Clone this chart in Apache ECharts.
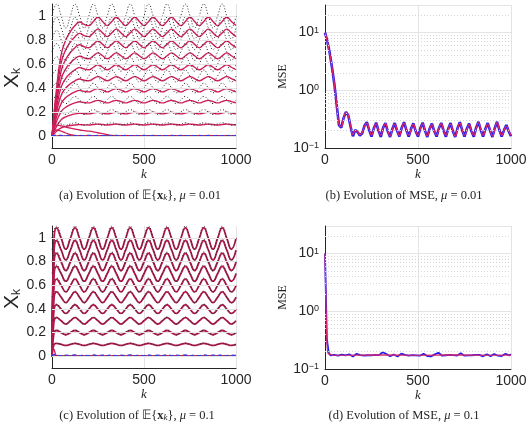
<!DOCTYPE html>
<html>
<head>
<meta charset="utf-8">
<script src="https://cdn.jsdelivr.net/npm/echarts@6/dist/echarts.min.js"></script>
<style>
html,body{margin:0;padding:0;background:#fff}
#main{width:531px;height:428px}
</style>
</head>
<body>
<div id="main"></div>
<script>
// levels of the tracked components
var levels = [0, 0.1, 0.2, 0.3, 0.4, 0.5, 0.6, 0.7, 0.8, 0.9, 1.0]
// k samples used for the tracking curves (a) and (c)
var kTrack = [0, 10, 25, 50, 75, 100, 125, 150, 175, 200, 225, 250, 275, 300, 325, 350, 375, 400, 425, 450, 475,
  500, 525, 550, 575, 600, 625, 650, 675, 700, 725, 750, 775, 800, 825, 850, 875, 900, 925, 950, 975, 1000]
// true signal, relative ripple around each level (dotted)
var rippleTrue = [0, 0.06,
  0.1, 0, -0.1, 0, 0.1, 0, -0.1, 0, 0.1, 0, -0.1, 0, 0.1, 0, -0.1, 0, 0.1, 0, -0.1, 0,
  0.1, 0, -0.1, 0, 0.1, 0, -0.1, 0, 0.1, 0, -0.1, 0, 0.1, 0, -0.1, 0, 0.1, 0, -0.1, 0]
// estimate relative to level, mu = 0.01
var trackA = [0, 0.17, 0.4, 0.68, 0.8, 0.87, 0.92, 0.95, 0.93,
  0.92, 0.955, 0.99, 0.955, 0.92, 0.955, 0.99, 0.955, 0.92, 0.955, 0.99, 0.955, 0.92, 0.955, 0.99, 0.955,
  0.92, 0.955, 0.99, 0.955, 0.92, 0.955, 0.99, 0.955, 0.92, 0.955, 0.99, 0.955, 0.92, 0.955, 0.99, 0.955,
  0.92]
// estimate relative to level, mu = 0.1
var trackC = [0, 0.95,
  1.085, 0.995, 0.905, 0.995, 1.085, 0.995, 0.905, 0.995, 1.085, 0.995, 0.905, 0.995, 1.085, 0.995, 0.905, 0.995,
  1.085, 0.995, 0.905, 0.995, 1.085, 0.995, 0.905, 0.995, 1.085, 0.995, 0.905, 0.995, 1.085, 0.995, 0.905, 0.995,
  1.085, 0.995, 0.905, 0.995, 1.085, 0.995, 0.905, 0.995]
// zero components that overshoot at the start
var zeroA1 = [0, 0.07, 0.09, 0.085, 0.075, 0.065, 0.058, 0.05, 0.045, 0.04, 0.034, 0.027, 0.02, 0.012, 0.006, 0.002, 0,
  0, 0, 0, 0, 0, 0, 0, 0, 0, 0, 0, 0, 0, 0, 0, 0, 0, 0, 0, 0, 0, 0, 0, 0, 0]
var zeroA2 = [0, 0.035, 0.05, 0.04, 0.025, 0.012, 0.005, 0,
  0, 0, 0, 0, 0, 0, 0, 0, 0, 0, 0, 0, 0, 0, 0, 0, 0, 0, 0, 0, 0, 0, 0, 0, 0, 0, 0, 0, 0, 0, 0, 0, 0, 0]
var zeroC = [0, 0.06, 0.005,
  0, 0, 0, 0, 0, 0, 0, 0, 0, 0, 0, 0, 0, 0, 0, 0, 0, 0, 0, 0, 0, 0, 0, 0, 0, 0, 0, 0, 0, 0, 0, 0, 0, 0, 0, 0, 0, 0, 0]
// blue dashed near zero
var blueA = [0, 0.004, 0.006, 0.004, 0.003, 0.004, 0.003, 0.004, 0.003, 0.004, 0.003, 0.004, 0.003, 0.004,
  0.003, 0.004, 0.003, 0.004, 0.003, 0.004, 0.003, 0.004, 0.003, 0.004, 0.003, 0.004, 0.003, 0.004,
  0.003, 0.004, 0.003, 0.004, 0.003, 0.004, 0.003, 0.004, 0.003, 0.004, 0.003, 0.004, 0.003, 0.004]
var blueC = [0, 0.015,
  0.008, 0.004, 0.009, 0.005, 0.01, 0.004, 0.008, 0.005, 0.011, 0.004, 0.009, 0.005, 0.01, 0.004, 0.008, 0.005,
  0.011, 0.004, 0.009, 0.005, 0.01, 0.004, 0.008, 0.005, 0.011, 0.004, 0.009, 0.005, 0.01, 0.004, 0.008, 0.005,
  0.011, 0.004, 0.009, 0.005, 0.01, 0.004, 0.008, 0.005]

// MSE, mu = 0.01 (one value every 12.5 k)
var mseStepB = 12.5
var mseRedB = [10, 7.0, 4.4, 2.5, 1.3, 0.58, 0.26, 0.235, 0.33, 0.41,
  0.37, 0.24, 0.17, 0.2, 0.195, 0.17, 0.185, 0.24, 0.27, 0.21,
  0.165, 0.215, 0.265, 0.205, 0.165, 0.22, 0.265, 0.2, 0.16, 0.21,
  0.26, 0.205, 0.165, 0.22, 0.27, 0.21, 0.165, 0.21, 0.26, 0.2,
  0.165, 0.215, 0.265, 0.205, 0.16, 0.21, 0.255, 0.2, 0.165, 0.215,
  0.265, 0.205, 0.165, 0.21, 0.26, 0.2, 0.16, 0.215, 0.27, 0.21,
  0.165, 0.21, 0.255, 0.2, 0.165, 0.22, 0.275, 0.21, 0.165, 0.21,
  0.26, 0.205, 0.16, 0.215, 0.275, 0.21, 0.165, 0.2, 0.24, 0.2,
  0.165]
var mseBlueB = [10, 7.1, 4.5, 2.5, 1.3, 0.57, 0.25, 0.225, 0.33, 0.42,
  0.37, 0.235, 0.16, 0.205, 0.19, 0.165, 0.18, 0.245, 0.28, 0.205,
  0.158, 0.22, 0.275, 0.2, 0.156, 0.225, 0.27, 0.195, 0.155, 0.215,
  0.27, 0.2, 0.158, 0.225, 0.28, 0.205, 0.157, 0.215, 0.268, 0.195,
  0.158, 0.22, 0.275, 0.2, 0.155, 0.215, 0.265, 0.195, 0.158, 0.22,
  0.272, 0.2, 0.157, 0.215, 0.27, 0.195, 0.155, 0.22, 0.28, 0.205,
  0.158, 0.215, 0.265, 0.195, 0.157, 0.225, 0.285, 0.205, 0.158, 0.215,
  0.27, 0.2, 0.155, 0.22, 0.285, 0.205, 0.158, 0.205, 0.25, 0.195,
  0.16]

// MSE, mu = 0.1
var kRedD = [0, 2, 4, 6, 8, 10, 13, 17, 25, 40, 100, 200, 300, 400, 500, 600, 700, 800, 900, 1000]
var mseRedD = [10, 5, 2.2, 1.0, 0.5, 0.3, 0.21, 0.185, 0.176, 0.174, 0.173, 0.174, 0.175, 0.174, 0.173, 0.174, 0.175, 0.174, 0.173, 0.174]
var mseStepD = 10
var mseBlueD = [10, 0.33, 0.19, 0.172, 0.168,
  0.175, 0.182, 0.17, 0.166, 0.178, 0.185, 0.172, 0.168, 0.18, 0.176,
  0.165, 0.171, 0.183, 0.188, 0.174, 0.167, 0.17, 0.179, 0.173, 0.164,
  0.172, 0.18, 0.176, 0.169, 0.174, 0.186, 0.195, 0.2, 0.182, 0.171,
  0.166, 0.173, 0.178, 0.17, 0.165, 0.175, 0.184, 0.19, 0.176, 0.168,
  0.171, 0.166, 0.174, 0.18, 0.172, 0.167, 0.17, 0.178, 0.183, 0.175,
  0.168, 0.172, 0.165, 0.17, 0.179, 0.186, 0.191, 0.178, 0.17, 0.166,
  0.173, 0.169, 0.176, 0.182, 0.174, 0.167, 0.171, 0.18, 0.188, 0.177,
  0.17, 0.165, 0.172, 0.178, 0.173, 0.168, 0.175, 0.183, 0.176, 0.169,
  0.166, 0.174, 0.18, 0.171, 0.167, 0.175, 0.182, 0.178, 0.17, 0.173,
  0.168, 0.176, 0.184, 0.179, 0.172, 0.181]

var yTicksLin = [0, 0.2, 0.4, 0.6, 0.8, 1]
var yMinorLog = [0.2, 0.3, 0.4, 0.5, 0.6, 0.7, 0.8, 0.9, 2, 3, 4, 5, 6, 7, 8, 9, 20]

var chart = echarts.init(document.getElementById('main'))

var axisCol = '#262626'
var gridCol = '#e4e4e4'
var pink = '#cf1f5c'
var pinkDark = '#b3194f'
var dotCol = '#2a2a2a'

function pairs(ks, vs){ return ks.map(function(k, i){ return [k, vs[i]] }) }
function stepPairs(step, vs){ return vs.map(function(v, i){ return [i*step, v] }) }

function line(g, data, color, width, type, smooth){
	return {type:'line', xAxisIndex:g, yAxisIndex:g, data:data, symbol:'none', smooth:smooth, silent:true,
		lineStyle:{color:color, width:width, type:type||'solid'}}
}

function gridLines(g, values, anchor, style){
	return {type:'line', xAxisIndex:g, yAxisIndex:g, data:[[0, anchor]], symbol:'none', silent:true,
		lineStyle:{opacity:0},
		markLine:{silent:true, symbol:'none', label:{show:false}, lineStyle:style,
			data:values.map(function(v){ return {yAxis:v} })}}
}

function trackSeries(g, track, color, width){
	var out = []
	levels.forEach(function(L){
		out.push(line(g, pairs(kTrack, track.map(function(r){ return L*r })), color, width, 'solid', true))
	})
	levels.forEach(function(L){
		out.push(line(g, pairs(kTrack, rippleTrue.map(function(r){ return L*(1+r) })), dotCol, 1, [1, 2], true))
	})
	return out
}

function xAx(g){
	return {type:'value', gridIndex:g, min:0, max:1000, interval:500,
		name:'k', nameLocation:'middle', nameGap:20,
		nameTextStyle:{fontFamily:'Liberation Serif', fontStyle:'italic', fontSize:13, color:axisCol},
		axisLine:{show:true, onZero:false, lineStyle:{color:axisCol}},
		axisTick:{show:false},
		axisLabel:{fontFamily:'Liberation Sans', fontSize:14, color:axisCol, margin:5,
			formatter:function(v){ return String(v) }},
		splitLine:{show:true, lineStyle:{color:gridCol}}}
}

function yLin(g){
	return {type:'value', gridIndex:g, min:-0.1, max:1.1, interval:0.1,
		axisLine:{show:true, onZero:false, lineStyle:{color:axisCol}},
		axisTick:{show:false},
		axisLabel:{fontFamily:'Liberation Sans', fontSize:14, color:axisCol, margin:6,
			formatter:function(v){
				var t = Math.round(v*10)
				if(t < 0 || t > 10 || t % 2) return ''
				return t === 0 ? '0' : t === 10 ? '1' : (t/10).toFixed(1)
			}},
		splitLine:{show:false}}
}

function yLog(g){
	return {type:'log', logBase:10, gridIndex:g, min:0.1, max:30,
		name:'MSE', nameLocation:'middle', nameGap:33,
		nameTextStyle:{fontFamily:'Liberation Serif', fontSize:12, color:axisCol},
		axisLine:{show:true, onZero:false, lineStyle:{color:axisCol}},
		axisTick:{show:false},
		axisLabel:{showMaxLabel:false, margin:6, color:axisCol,
			formatter:function(v){
				var e = Math.round(Math.log10(v))
				return '{b|10}{e|' + (e < 0 ? '\u2212' + (-e) : e) + '}'
			},
			rich:{
				b:{fontFamily:'Liberation Sans', fontSize:14, color:axisCol},
				e:{fontFamily:'Liberation Sans', fontSize:9, color:axisCol, verticalAlign:'top'}}},
		splitLine:{show:true, lineStyle:{color:gridCol}}}
}

function yName(x, y){
	return {type:'text', x:x, y:y, rotation:Math.PI/2, silent:true,
		style:{text:'{x|X}{s|k}', align:'center', verticalAlign:'middle',
			rich:{
				x:{fontFamily:'Liberation Sans', fontSize:21, fill:axisCol},
				s:{fontFamily:'Liberation Sans', fontSize:12, fill:axisCol, verticalAlign:'bottom'}}}}
}

function caption(x, y, text){
	return {type:'text', x:x, y:y, silent:true,
		style:{text:text, align:'center', verticalAlign:'middle', fontFamily:'Liberation Serif', fontSize:12.5, fill:'#262626',
			rich:{
				bx:{fontFamily:'Liberation Serif', fontSize:12.5, fontWeight:'bold', fill:'#262626'},
				sub:{fontFamily:'Liberation Serif', fontSize:9, fontStyle:'italic', fill:'#262626', verticalAlign:'bottom'},
				i:{fontFamily:'Liberation Serif', fontSize:12.5, fontStyle:'italic', fill:'#262626'}}}}
}

var series = []
// (a)
series.push(gridLines(0, yTicksLin, 0, {color:gridCol, type:'solid', width:1}))
series.push(line(0, pairs(kTrack, zeroA1), pink, 1.3, 'solid', true))
series.push(line(0, pairs(kTrack, zeroA2), pink, 1.3, 'solid', true))
series = series.concat(trackSeries(0, trackA, pink, 1.4))
series.push(line(0, pairs(kTrack, blueA), '#3b3bdc', 1.4, [4, 3], true))
// (b)
series.push(gridLines(1, yMinorLog, 1, {color:'#d4d4d4', type:[1, 2], width:1}))
series.push(line(1, stepPairs(mseStepB, mseBlueB), '#1c1cf0', 2.6, 'solid', false))
series.push(line(1, stepPairs(mseStepB, mseRedB), '#e0286a', 1.3, 'solid', true))
// (c)
series.push(gridLines(2, yTicksLin, 0, {color:gridCol, type:'solid', width:1}))
series.push(line(2, pairs(kTrack, zeroC), pink, 1.3, 'solid', true))
series = series.concat(trackSeries(2, trackC, pinkDark, 1.8))
series.push(line(2, pairs(kTrack, blueC), '#3b3bdc', 1.4, [4, 3], true))
// (d)
series.push(gridLines(3, yMinorLog, 1, {color:'#d4d4d4', type:[1, 2], width:1}))
series.push(line(3, stepPairs(mseStepD, mseBlueD), '#1c1cf0', 1.8, 'solid', false))
series.push(line(3, pairs(kRedD, mseRedD), '#e0286a', 1.2, 'solid', false))

option = {
	backgroundColor:'#fff',
	animation:false,
	grid:[
		{left:52, top:4, width:184, height:144},
		{left:325, top:5, width:186, height:143},
		{left:52, top:226, width:184, height:142},
		{left:325, top:226, width:186, height:143}
	],
	xAxis:[xAx(0), xAx(1), xAx(2), xAx(3)],
	yAxis:[yLin(0), yLog(1), yLin(2), yLog(3)],
	series:series,
	graphic:[
		yName(12, 78),
		yName(12, 299),
		caption(140, 196, '(a) Evolution of \uD835\uDD3C{{bx|x}{sub|k}}, {i|\u03BC} = 0.01'),
		caption(404, 196, '(b) Evolution of MSE, {i|\u03BC} = 0.01'),
		caption(137, 416, '(c) Evolution of \uD835\uDD3C{{bx|x}{sub|k}}, {i|\u03BC} = 0.1'),
		caption(404, 416, '(d) Evolution of MSE, {i|\u03BC} = 0.1')
	]
}

chart.setOption(option)
</script>
</body>
</html>
